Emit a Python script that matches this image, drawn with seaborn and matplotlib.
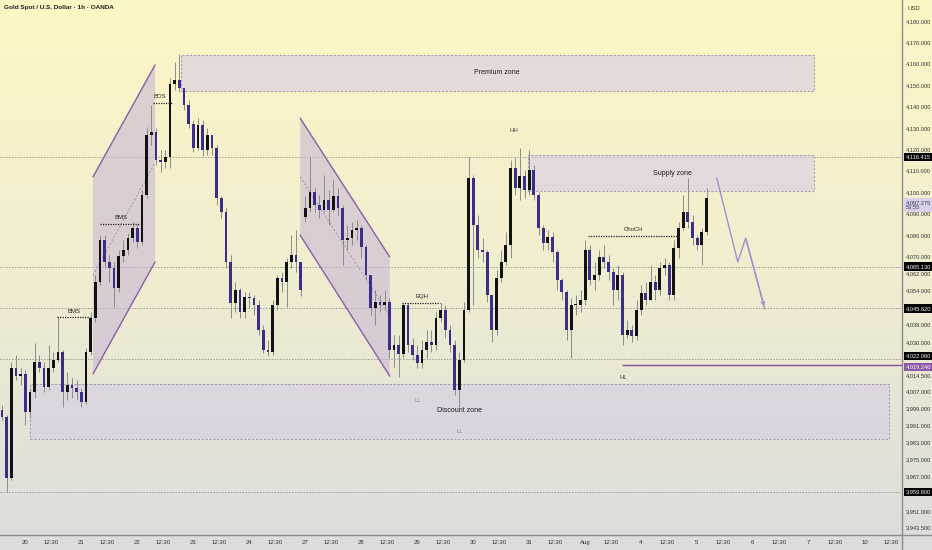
import numpy as np
import seaborn as sns
import matplotlib
matplotlib.use("Agg")
import matplotlib.pyplot as plt
from matplotlib import font_manager
from matplotlib.colors import LinearSegmentedColormap
from matplotlib.patches import Rectangle, Polygon
from matplotlib.transforms import blended_transform_factory

sns.set_theme(style="white")
installed = {f.name for f in font_manager.fontManager.ttflist}
narrow = "Liberation Sans Narrow" if "Liberation Sans Narrow" in installed else "Liberation Sans"
plt.rcParams['font.family'] = [narrow, 'DejaVu Sans']

# 2h-ish candles (Jul 20 -> Aug 5)
opens = [3998.1, 3994.9, 3966.3, 4017.8, 4014.0, 4015.0, 3997.2, 4006.5, 4020.6, 4017.8,
         4008.9, 4017.8, 4021.5, 4025.2, 4006.5, 4009.8, 4008.4, 4006.5, 4001.9, 4025.2,
         4041.1, 4058.0, 4077.6, 4067.3, 4064.5, 4055.2, 4070.1, 4072.9, 4078.5, 4083.2,
         4076.7, 4098.6, 4126.7, 4128.1, 4115.0, 4114.1, 4116.4, 4150.5, 4152.4, 4148.7,
         4140.7, 4131.8, 4120.6, 4131.4, 4119.7, 4126.7, 4120.6, 4097.2, 4090.7, 4067.3,
         4048.1, 4054.2, 4043.9, 4051.0, 4050.5, 4047.2, 4035.5, 4026.2, 4025.2, 4047.2,
         4059.8, 4058.0, 4067.3, 4070.6, 4067.3, 4088.5, 4092.6, 4100.0, 4094.0, 4091.6,
         4096.3, 4091.6, 4098.2, 4092.6, 4077.6, 4078.5, 4082.3, 4083.2, 4074.3, 4061.2,
         4045.8, 4048.6, 4047.2, 4048.6, 4026.2, 4028.5, 4024.3, 4047.2, 4028.5, 4023.8,
         4020.1, 4026.2, 4029.9, 4028.5, 4041.1, 4044.9, 4035.5, 4028.5, 4007.5, 4021.5,
         4044.9, 4106.6, 4084.6, 4072.9, 4072.0, 4051.9, 4035.5, 4059.8, 4067.3, 4075.3,
         4111.3, 4101.9, 4107.5, 4101.0, 4110.3, 4098.6, 4083.2, 4076.2, 4079.0, 4072.0,
         4058.9, 4053.3, 4035.5, 4047.2, 4047.2, 4049.5, 4072.9, 4058.9, 4061.2, 4069.7,
         4067.3, 4062.6, 4054.2, 4061.2, 4033.2, 4035.5, 4032.7, 4044.9, 4052.8, 4049.5,
         4058.0, 4054.2, 4064.5, 4065.9, 4051.9, 4073.9, 4083.2, 4090.7, 4086.0, 4078.5,
         4075.3, 4081.3]
closes = [3994.9, 3966.3, 4017.8, 4014.0, 4015.0, 3997.2, 4006.5, 4020.6, 4017.8, 4008.9,
          4017.8, 4021.5, 4025.2, 4006.5, 4009.8, 4008.4, 4006.5, 4001.9, 4025.2, 4041.1,
          4058.0, 4077.6, 4067.3, 4064.5, 4055.2, 4070.1, 4072.9, 4078.5, 4083.2, 4076.7,
          4098.6, 4126.7, 4128.1, 4115.0, 4114.1, 4116.4, 4150.5, 4152.4, 4148.7, 4140.7,
          4131.8, 4120.6, 4131.4, 4119.7, 4126.7, 4120.6, 4097.2, 4090.7, 4067.3, 4048.1,
          4054.2, 4043.9, 4051.0, 4050.5, 4047.2, 4035.5, 4026.2, 4025.2, 4047.2, 4059.8,
          4058.0, 4067.3, 4070.6, 4067.3, 4054.2, 4092.6, 4100.0, 4094.0, 4091.6, 4096.3,
          4091.6, 4098.2, 4092.6, 4077.6, 4078.5, 4082.3, 4083.2, 4074.3, 4061.2, 4045.8,
          4048.6, 4047.2, 4048.6, 4026.2, 4028.5, 4024.3, 4047.2, 4028.5, 4023.8, 4020.1,
          4026.2, 4029.9, 4028.5, 4041.1, 4044.9, 4035.5, 4028.5, 4007.5, 4021.5, 4044.9,
          4106.6, 4084.6, 4072.9, 4072.0, 4051.9, 4035.5, 4059.8, 4067.3, 4075.3, 4111.3,
          4101.9, 4107.5, 4101.0, 4110.3, 4098.6, 4083.2, 4076.2, 4079.0, 4072.0, 4058.9,
          4053.3, 4035.5, 4047.2, 4047.2, 4049.5, 4072.9, 4058.9, 4061.2, 4069.7, 4067.3,
          4062.6, 4054.2, 4061.2, 4033.2, 4035.5, 4032.7, 4044.9, 4052.8, 4049.5, 4058.0,
          4054.2, 4064.5, 4065.9, 4051.9, 4073.9, 4083.2, 4090.7, 4086.0, 4078.5, 4075.3,
          4081.3, 4097.3]
highs = [4000.5, 3995.8, 4020.6, 4023.8, 4017.8, 4016.8, 4008.4, 4029.4, 4023.8, 4020.6,
         4028.5, 4025.2, 4041.6, 4026.2, 4015.9, 4013.1, 4012.1, 4008.4, 4027.1, 4043.9,
         4061.2, 4079.9, 4079.9, 4070.6, 4067.3, 4072.9, 4077.6, 4080.9, 4086.0, 4085.1,
         4101.0, 4130.4, 4140.7, 4130.0, 4119.7, 4119.7, 4153.3, 4160.8, 4164.6, 4148.7,
         4143.0, 4133.7, 4134.6, 4133.7, 4130.0, 4126.7, 4122.0, 4098.2, 4092.6, 4070.6,
         4058.0, 4055.2, 4053.3, 4053.3, 4051.9, 4049.5, 4037.9, 4030.8, 4049.5, 4061.2,
         4062.6, 4069.2, 4079.9, 4082.3, 4067.3, 4098.2, 4116.4, 4101.9, 4098.6, 4108.0,
         4101.0, 4105.6, 4101.9, 4094.0, 4084.6, 4086.0, 4086.9, 4084.6, 4075.3, 4061.2,
         4054.2, 4051.9, 4054.2, 4050.5, 4033.2, 4033.2, 4048.1, 4048.1, 4031.8, 4028.5,
         4030.8, 4035.5, 4035.5, 4043.9, 4048.1, 4047.2, 4037.9, 4030.8, 4025.2, 4048.6,
         4116.4, 4108.0, 4089.3, 4078.5, 4072.9, 4051.9, 4063.6, 4072.9, 4081.3, 4115.0,
         4115.9, 4120.6, 4110.3, 4119.7, 4112.7, 4100.0, 4084.6, 4082.3, 4081.3, 4072.9,
         4059.8, 4054.2, 4050.5, 4051.9, 4054.2, 4077.6, 4075.3, 4067.3, 4072.9, 4075.3,
         4070.6, 4064.5, 4065.9, 4062.6, 4040.2, 4037.9, 4049.5, 4056.6, 4058.0, 4065.9,
         4061.2, 4067.3, 4069.2, 4067.3, 4077.6, 4086.0, 4098.6, 4106.6, 4089.3, 4079.9,
         4083.2, 4101.9]
lows = [3993.4, 3959.8, 3965.4, 4012.1, 4009.8, 3991.1, 3994.4, 4003.7, 4015.9, 4006.5,
        4007.5, 4015.9, 4020.6, 3999.5, 4002.8, 4003.7, 4002.8, 3999.5, 4000.9, 4023.8,
        4039.3, 4056.6, 4064.5, 4058.0, 4046.3, 4053.3, 4067.3, 4070.6, 4076.7, 4073.9,
        4075.3, 4097.2, 4122.0, 4112.7, 4109.4, 4111.3, 4111.3, 4147.7, 4146.8, 4138.4,
        4130.0, 4118.7, 4119.7, 4116.9, 4117.3, 4117.3, 4094.0, 4087.9, 4064.5, 4041.1,
        4043.9, 4041.1, 4041.1, 4045.8, 4042.5, 4033.2, 4024.8, 4023.4, 4023.8, 4044.9,
        4053.3, 4046.3, 4064.5, 4062.6, 4051.4, 4086.0, 4090.7, 4090.7, 4087.9, 4090.7,
        4084.6, 4090.7, 4089.3, 4065.9, 4072.9, 4075.3, 4077.6, 4069.2, 4058.9, 4042.5,
        4037.9, 4043.9, 4044.9, 4022.4, 4018.2, 4013.6, 4022.4, 4025.2, 4021.5, 4017.8,
        4017.8, 4022.4, 4025.2, 4026.2, 4039.3, 4031.8, 4025.2, 4005.1, 3999.5, 4020.6,
        4043.9, 4047.2, 4069.2, 4067.3, 4048.6, 4029.9, 4033.2, 4058.0, 4065.9, 4069.2,
        4098.6, 4096.3, 4097.2, 4098.6, 4096.3, 4079.9, 4072.9, 4072.9, 4067.3, 4054.2,
        4049.5, 4030.8, 4022.4, 4042.5, 4043.9, 4047.2, 4056.6, 4054.2, 4058.9, 4064.5,
        4058.9, 4047.2, 4049.5, 4028.5, 4031.8, 4029.9, 4030.8, 4042.5, 4047.2, 4049.5,
        4049.5, 4051.9, 4061.2, 4049.5, 4049.5, 4069.2, 4082.3, 4083.2, 4075.3, 4072.9,
        4065.9, 4079.9]

day_labels = ["20", "21", "22", "23", "24", "27", "28", "29", "30", "31", "Aug", "4", "5", "6", "7", "10"]
half_label = "12:30"
price_ticks = [4180, 4170, 4160, 4150, 4140, 4130, 4120, 4110, 4100, 4090, 4080, 4070, 4062, 4054,
               4038, 4030, 4014.5, 4007, 3999, 3991, 3983, 3975, 3967, 3951, 3943.5]
level_lines = [4116.415, 4065.13, 4045.62, 4022.06, 3959.8]
hl_level = 4019.24
last_price = 4097.275
countdown = "53:55"
proj_x = [153.2, 157.7, 159.4, 163.5]
proj_y = [4106.6, 4067.3, 4078.5, 4045.3]

bars_per_day = 12
first_day = 4.93

fig = plt.figure(figsize=(9.32, 5.5), dpi=100)

# background gradient (yellow -> grey)
bg = fig.add_axes([0, 0, 1, 1], zorder=-10)
cmap = LinearSegmentedColormap.from_list("tv", ["#fdf6c4", "#f1edd0", "#dcdcdc"])
bg.imshow(np.linspace(0, 1, 256).reshape(-1, 1), aspect="auto", cmap=cmap, extent=[0, 1, 0, 1])
bg.axis("off")

ax = fig.add_axes([0, 15 / 550, 902 / 932, 535 / 550])
ax.set_facecolor("none")
for s in ax.spines.values():
    s.set_visible(False)
ax.set_xlim(-0.43, 192.9)
ax.set_ylim(3939.7, 4189.8)

# horizontal price lines
for v in level_lines:
    ax.axhline(v, color="#9c9c9c", lw=0.7, ls=(0, (1.5, 1.5)), zorder=1)

# zones
zone_fc, zone_ec = "#d8cde6", "#a99cb6"
for (x0, x1, y0, y1) in [(38.4, 174.0, 4147.3, 4164.1), (112.7, 174.0, 4100.5, 4117.3),
                         (6.0, 190.1, 3984.6, 4010.3)]:
    ax.add_patch(Rectangle((x0, y0), x1 - x0, y1 - y0, fc=zone_fc, alpha=0.62, ec="none", zorder=1))
    ax.add_patch(Rectangle((x0, y0), x1 - x0, y1 - y0, fc="none", ec=zone_ec, lw=0.8,
                           ls=(0, (2, 1.5)), zorder=1.5))

# channels
for pts, mid in [([(19.5, 4107.1), (32.8, 4159.4), (32.8, 4067.3), (19.5, 4015.0)],
                  [(19.5, 4061.2), (32.8, 4113.6)]),
                 ([(63.9, 4134.6), (83.1, 4069.7), (83.1, 4014.0), (63.9, 4079.9)],
                  [(63.9, 4107.1), (83.1, 4042.1)])]:
    ax.add_patch(Polygon(pts, closed=True, fc="#c9b8d6", alpha=0.6, ec="none", zorder=1))
    ax.plot([pts[0][0], pts[1][0]], [pts[0][1], pts[1][1]], color="#8a5fa6", lw=1, zorder=2)
    ax.plot([pts[3][0], pts[2][0]], [pts[3][1], pts[2][1]], color="#8a5fa6", lw=1, zorder=2)
    ax.plot([mid[0][0], mid[1][0]], [mid[0][1], mid[1][1]], color="#a58fbb", lw=0.7,
            ls=(0, (2, 2)), zorder=2)

# candles
x = np.arange(len(closes))
o, c, h, l = map(np.array, (opens, closes, highs, lows))
up = c >= o
ax.vlines(x, l, h, color="#8c8c8c", lw=0.7, zorder=3)
ax.bar(x[up], np.maximum((c - o)[up], 0.4), bottom=o[up], width=0.6, color="#121212", lw=0, zorder=4)
ax.bar(x[~up], (o - c)[~up], bottom=c[~up], width=0.6, color="#3a2e8a", lw=0, zorder=4)

# structure levels (dotted)
for (x0, x1, y) in [(11.8, 18.9, 4041.6), (21.0, 29.6, 4085.1), (32.4, 36.6, 4141.6),
                    (85.7, 93.9, 4048.1), (125.6, 144.6, 4079.5)]:
    ax.hlines(y, x0, x1, color="#222222", lw=0.9, ls=(0, (1, 1)), zorder=5)

# HL line
ax.hlines(hl_level, 132.8, 192.9, color="#7e4f9e", lw=1, zorder=5)

# projected path
sns.lineplot(x=proj_x, y=proj_y, sort=False, color="#a68fcf", lw=1, ax=ax, zorder=5)
ax.annotate("", xy=(proj_x[-1], proj_y[-1]), xytext=(proj_x[-2], proj_y[-2]),
            arrowprops=dict(arrowstyle="->", color="#a68fcf", lw=1, mutation_scale=6), zorder=5)

# annotations
ann = dict(family=["Liberation Sans", "DejaVu Sans"], ha="center", va="center", zorder=6)
ax.text(106.1, 4156.1, "Premium zone", fontsize=5, color="#1c1c1c", **ann)
ax.text(143.6, 4108.5, "Supply zone", fontsize=5, color="#1c1c1c", **ann)
ax.text(98.1, 3997.7, "Discount zone", fontsize=5, color="#1c1c1c", **ann)
for (tx, ty, t, col) in [(15.4, 4044.4, "BMS", "#222"), (25.5, 4087.9, "BMS", "#222"),
                         (33.9, 4144.5, "BOS", "#222"), (90.0, 4051.0, "EQH", "#222"),
                         (135.4, 4082.7, "ChoCH", "#222"), (109.7, 4129.0, "HH", "#444"),
                         (89.1, 4002.8, "LL", "#8a8a8a"), (98.1, 3988.3, "LL", "#8a8a8a"),
                         (133.1, 4013.1, "HL", "#444")]:
    ax.text(tx, ty, t, fontsize=4.3, color=col, **ann)

# axes ticks
day_pos = [first_day + bars_per_day * k for k in range(len(day_labels))]
xt = []
xl = []
for p, d in zip(day_pos, day_labels):
    xt += [p, p + 5.7]
    xl += [d, half_label]
ax.set_xticks(xt, xl)
ax.set_yticks(price_ticks, [f"{v:,.3f}" for v in price_ticks])
ax.yaxis.tick_right()
ax.tick_params(axis="x", length=0, pad=3.5, labelsize=4.3, labelcolor="#333333")
ax.tick_params(axis="y", length=0, pad=3.0, labelsize=4.1, labelcolor="#333333")
ax.set_xlabel("")
ax.set_ylabel("")
ax.grid(False)

# price tags on the axis (slight nudges keep the close ones apart, like TradingView)
tr = blended_transform_factory(ax.transAxes, ax.transData)
tag_kw = dict(transform=tr, ha="left", va="center", fontsize=4.1, clip_on=False, zorder=10)
nudge = {4022.06: 1.3}
for v in level_lines:
    ax.text(1.004, v + nudge.get(v, 0), f"{v:,.3f}", color="white",
            bbox=dict(boxstyle="square,pad=0.3", fc="black", ec="none"), **tag_kw)
ax.text(1.004, hl_level - 1.0, f"{hl_level:,.3f}", color="white",
        bbox=dict(boxstyle="square,pad=0.3", fc="#8a5aa8", ec="none"), **tag_kw)
ax.text(1.004, last_price - 3.3, f"{last_price:,.3f}\n{countdown}", color="#3a3a5a", linespacing=1.1,
        bbox=dict(boxstyle="square,pad=0.3", fc="#d9d1ea", ec="none"), **tag_kw)

# frame lines and header
fig.add_artist(plt.Line2D([902 / 932, 902 / 932], [0, 1], color="#8a8a8a", lw=1))
fig.add_artist(plt.Line2D([0, 1], [15 / 550, 15 / 550], color="#8a8a8a", lw=1))
fig.text(907 / 932, 1 - 9 / 550, "USD", fontsize=4.2, color="#333333", va="center")
fig.text(4 / 932, 1 - 8 / 550, "Gold Spot / U.S. Dollar · 1h · OANDA", fontsize=4.6,
         fontweight="bold", color="#222222", va="center")

fig.savefig("out.png", dpi=100)
